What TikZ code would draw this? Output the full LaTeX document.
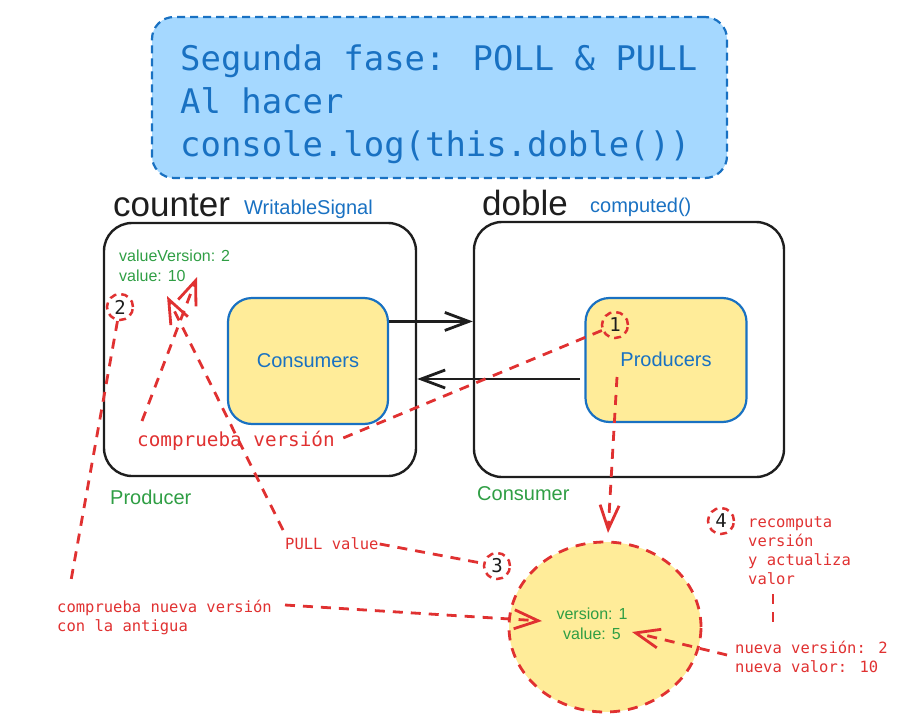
\documentclass[tikz,border=0pt]{standalone}
\usepackage{fontspec}
\setmainfont{Liberation Sans}
\newfontfamily\monof{DejaVu Sans Mono}
\usetikzlibrary{arrows.meta,shapes.geometric}
\definecolor{exblue}{HTML}{1971C2}
\definecolor{exlblue}{HTML}{A5D8FF}
\definecolor{exyellow}{HTML}{FFEC99}
\definecolor{exred}{HTML}{E03131}
\definecolor{exgreen}{HTML}{2F9E44}
\definecolor{exblack}{HTML}{1E1E1E}
\tikzset{
  bigbox/.style={draw=exblack, line width=2.4pt, rounded corners=28pt, inner sep=0pt},
  innerbox/.style={draw=exblue, fill=exyellow, line width=2.2pt, rounded corners=24pt, inner sep=0pt,
    text=exblue, font=\fontsize{20}{24}\selectfont},
  heading/.style={text=exblack, inner sep=0pt, anchor=west, font=\fontsize{35}{40}\selectfont},
  subhead/.style={text=exblue, inner sep=0pt, anchor=west, font=\fontsize{20}{24}\selectfont},
  greentxt/.style={text=exgreen, inner sep=0pt, anchor=west, align=left, font=\fontsize{16}{20}\selectfont},
  greenbig/.style={text=exgreen, inner sep=0pt, anchor=west, font=\fontsize{20}{24}\selectfont},
  redtxt/.style={text=exred, inner sep=1pt, anchor=west, align=left, font=\monof\fontsize{15.5}{19}\selectfont},
  numcirc/.style={circle, draw=exred, line width=2.5pt, dash pattern=on 7pt off 5pt, minimum size=26pt,
    inner sep=0pt, text=exblack, font=\monof\fontsize{19}{22}\selectfont},
  blackarr/.style={draw=exblack, line width=2.8pt, -{Straight Barb[length=24pt,width=18pt]}},
  reddash/.style={draw=exred, line width=2.8pt, dash pattern=on 10pt off 8pt},
  redarr/.style={reddash, -{Straight Barb[length=24pt,width=19pt]}},
}
\begin{document}
\begin{tikzpicture}[x=1pt,y=-1pt]
\useasboundingbox (0,0) rectangle (908,723);
% title
\node[draw=exblue, fill=exlblue, line width=2.2pt, dash pattern=on 8pt off 5pt, rounded corners=22pt,
  minimum width=575pt, minimum height=161pt, inner sep=0pt] (titlebox) at (439.5,97.5) {};
\node[anchor=west, inner sep=0pt, text=exblue, align=left,
  font=\monof\fontsize{33.9}{43}\selectfont] (title) at (180,104)
  {Segunda fase: POLL \& PULL\\Al hacer\\console.log(this.doble())};
% headings
\node[heading] (counterlbl) at (113,205) {counter};
\node[subhead] (counterkind) at (244,209) {WritableSignal};
\node[heading] (doblelbl) at (482,203) {doble};
\node[subhead] (doblekind) at (590,207) {computed()};
% boxes
\node[bigbox, minimum width=312pt, minimum height=253pt] (counterbox) at (260,349.5) {};
\node[bigbox, minimum width=310pt, minimum height=255pt] (doblebox) at (629,349.5) {};
\node[innerbox, minimum width=160pt, minimum height=126pt] (consumers) at (308,361) {Consumers};
\node[innerbox, minimum width=161pt, minimum height=124pt] (producers) at (666,360) {};
\node[text=exblue, font=\fontsize{20}{24}\selectfont, inner sep=0pt] (prodtxt) at (666,359) {Producers};
\node[greentxt] (valtxt) at (119,266) {valueVersion: 2\\value: 10};
\node[greenbig] (producerlbl) at (110,497) {Producer};
\node[greenbig] (consumerlbl) at (477,494) {Consumer};
% numbered circles
\node[numcirc] (c1) at (615,325) {1};
\node[numcirc] (c2) at (120,307) {2};
\node[numcirc] (c3) at (497,566) {3};
\node[numcirc] (c4) at (721,521) {4};
% big ellipse
\node[ellipse, draw=exred, fill=exyellow, line width=2.8pt, dash pattern=on 10pt off 8pt,
  minimum width=192pt, minimum height=170pt, inner sep=0pt] (bigc) at (605,627) {};
\node[greentxt, anchor=center, align=center] (bigtxt) at (592,624) {version: 1\\value: 5};
% red texts
\node[redtxt, font=\monof\fontsize{19.3}{22}\selectfont] (cv) at (136,441) {comprueba versión};
\node[redtxt] (pv) at (284,544) {PULL value};
\node[redtxt] (cnv) at (56,617) {comprueba nueva versión\\con la antigua};
\node[redtxt] (rc) at (747,551) {recomputa\\versión\\y actualiza\\valor};
\node[redtxt] (nv) at (734,657) {nueva versión: 2\\nueva valor: 10};
% coordinates
\coordinate (pstart) at (580,379);
\coordinate (cvtop) at (142,421);
\coordinate (cvtip) at (197,277);
\coordinate (pvtop) at (283,530);
\coordinate (pvtip) at (167,296);
\coordinate (c2end) at (70,586);
\coordinate (cnvstart) at (285,605);
\coordinate (cnvtip) at (542,621);
\coordinate (pdown) at (617,377);
\coordinate (pdtip) at (608,533);
\coordinate (nvstart) at (727,655);
\coordinate (nvtip) at (632,632);
\coordinate (vtop) at (773,594);
\coordinate (vbot) at (773,626);
% black connectors
\draw[blackarr] (consumers.26.6) -- (doblebox.west |- consumers.26.6);
\draw[blackarr] (pstart) -- (counterbox.east |- pstart);
% red connectors
\draw[reddash] (c1) -- (cv.east);
\draw[redarr] (cvtop) -- (cvtip);
\draw[redarr] (pvtop) -- (pvtip);
\draw[reddash] (pv.east) -- (c3);
\draw[reddash] (c2) -- (c2end);
\draw[redarr] (cnvstart) -- (cnvtip);
\draw[redarr] (pdown) -- (pdtip);
\draw[redarr] (nvstart) -- (nvtip);
\draw[reddash] (vtop) -- (vbot);
\end{tikzpicture}
\end{document}
